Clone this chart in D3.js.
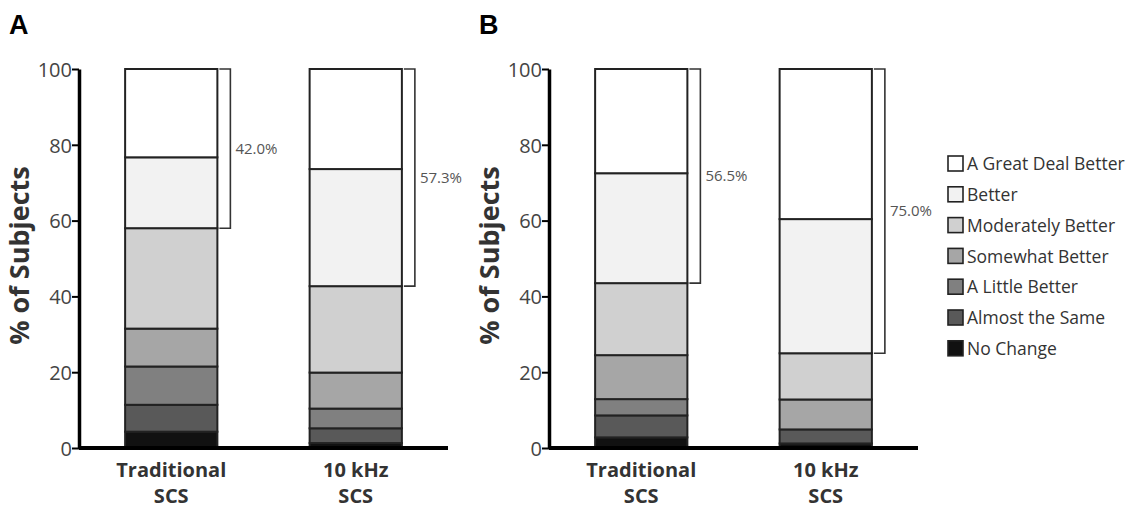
<!DOCTYPE html>
<html>
<head>
<meta charset="utf-8">
<script src="https://cdn.jsdelivr.net/npm/d3@7"></script>
<style>
  body { margin: 0; background: #fff; }
  svg { display: block; font-family: "Open Sans", "Noto Sans", sans-serif; }
</style>
</head>
<body>
<svg id="chart" width="1138" height="509"></svg>
<script>
// ---- data ----
const categories = ["Traditional SCS", "10 kHz SCS"];
const responseLevels = ["No Change", "Almost the Same", "A Little Better", "Somewhat Better", "Moderately Better", "Better", "A Great Deal Better"];
const levelColors = ["#111111", "#595959", "#808080", "#a6a6a6", "#d0d0d0", "#f2f2f2", "#ffffff"];
// segment sizes (% of subjects), bottom to top, per bar
const panelA_traditional = [4.3, 7.1, 10.1, 10.0, 26.5, 18.7, 23.3];
const panelA_10kHz      = [1.3, 3.9, 5.2, 9.5, 22.8, 30.9, 26.4];
const panelB_traditional = [2.8, 5.8, 4.3, 11.6, 19.0, 29.0, 27.5];
const panelB_10kHz      = [1.2, 3.7, 0.0, 7.9, 12.2, 35.4, 39.6];
const bracketA = ["42.0%", "57.3%"];
const bracketB = ["56.5%", "75.0%"];
const bracketLevels = 2; // top two levels are bracketed
const yTicks = [0, 20, 40, 60, 80, 100];
const legendLabels = ["A Great Deal Better", "Better", "Moderately Better", "Somewhat Better", "A Little Better", "Almost the Same", "No Change"];

const svg = d3.select("#chart");
const y = d3.scaleLinear().domain([0, 100]).range([448, 69]);
const color = d3.scaleOrdinal().domain(responseLevels).range(levelColors);

function drawPanel(letter, axisX, data, brackets) {
  const g = svg.append("g");
  const x = d3.scaleBand().domain(categories).range([axisX, axisX + 369]).paddingInner(0.5).paddingOuter(0.25);

  // panel letter
  g.append("text").attr("x", axisX - 70).attr("y", 34)
    .attr("font-size", 27).attr("font-weight", "bold")
    .attr("font-family", "Liberation Sans, Arial, sans-serif")
    .attr("fill", "#000").text(letter);

  // y axis title
  g.append("text")
    .attr("transform", `translate(${axisX - 50},${y(50) - 3}) rotate(-90)`)
    .attr("text-anchor", "middle").attr("font-size", 27).attr("font-weight", "bold")
    .attr("fill", "#333").text("% of Subjects");

  // bars
  data.forEach((vals, i) => {
    const cat = categories[i];
    let cum = 0;
    const segs = vals.map((v, k) => { const s = { lvl: responseLevels[k], y0: cum, y1: cum + v }; cum += v; return s; })
      .filter(s => s.y1 - s.y0 > 0);
    g.selectAll(null).data(segs).enter().append("rect")
      .attr("x", x(cat)).attr("width", x.bandwidth())
      .attr("y", d => y(d.y1)).attr("height", d => y(d.y0) - y(d.y1))
      .attr("fill", d => color(d.lvl)).attr("stroke", "#222").attr("stroke-width", 2);

    // bracket over top two levels
    const top = 100;
    const bot = 100 - vals.slice(-bracketLevels).reduce((a, b) => a + b, 0);
    const bx0 = x(cat) + x.bandwidth() + 2, bx1 = x(cat) + x.bandwidth() + 13;
    g.append("path")
      .attr("d", `M${bx0},${y(top)}H${bx1}V${y(bot)}H${bx0}`)
      .attr("fill", "none").attr("stroke", "#333").attr("stroke-width", 1.6);
    g.append("text").attr("x", bx1 + 5).attr("y", (y(top) + y(bot)) / 2 + 5)
      .attr("font-size", 15).attr("fill", "#555").text(brackets[i]);

    // category label
    const lbl = g.append("text").attr("text-anchor", "middle").attr("font-size", 20)
      .attr("font-weight", "bold").attr("fill", "#333");
    lbl.append("tspan").attr("x", x(cat) + x.bandwidth() / 2).attr("y", 477)
      .text(cat === "Traditional SCS" ? "Traditional" : "10 kHz");
    lbl.append("tspan").attr("x", x(cat) + x.bandwidth() / 2).attr("y", 503).text("SCS");
  });

  // y axis
  const yAxis = d3.axisLeft(y).tickValues(yTicks).tickSize(7).tickSizeOuter(0);
  const ax = g.append("g").attr("transform", `translate(${axisX},0)`).call(yAxis);
  ax.select(".domain").attr("stroke", "#000").attr("stroke-width", 3.5);
  ax.selectAll(".tick line").attr("stroke", "#000").attr("stroke-width", 2);
  ax.selectAll(".tick text").attr("font-size", 20).attr("fill", "#444")
    .attr("font-family", "Open Sans, sans-serif").attr("x", -7).attr("dy", "0.36em");

  // baseline
  g.append("line").attr("x1", axisX).attr("x2", axisX + 369)
    .attr("y1", y(0)).attr("y2", y(0)).attr("stroke", "#000").attr("stroke-width", 4);
}

drawPanel("A", 79, [panelA_traditional, panelA_10kHz], bracketA);
drawPanel("B", 549, [panelB_traditional, panelB_10kHz], bracketB);

// legend
const legend = svg.append("g").attr("transform", "translate(948,164)");
const li = legend.selectAll("g").data(legendLabels).enter().append("g")
  .attr("transform", (d, i) => `translate(0,${i * 30.8})`);
li.append("rect").attr("x", 0).attr("y", -8).attr("width", 15).attr("height", 15)
  .attr("fill", d => color(d)).attr("stroke", "#222").attr("stroke-width", 1.6);
li.append("text").attr("x", 19).attr("y", 0).attr("dy", "0.35em")
  .attr("font-size", 17.5).attr("fill", "#333").text(d => d);
</script>
</body>
</html>
